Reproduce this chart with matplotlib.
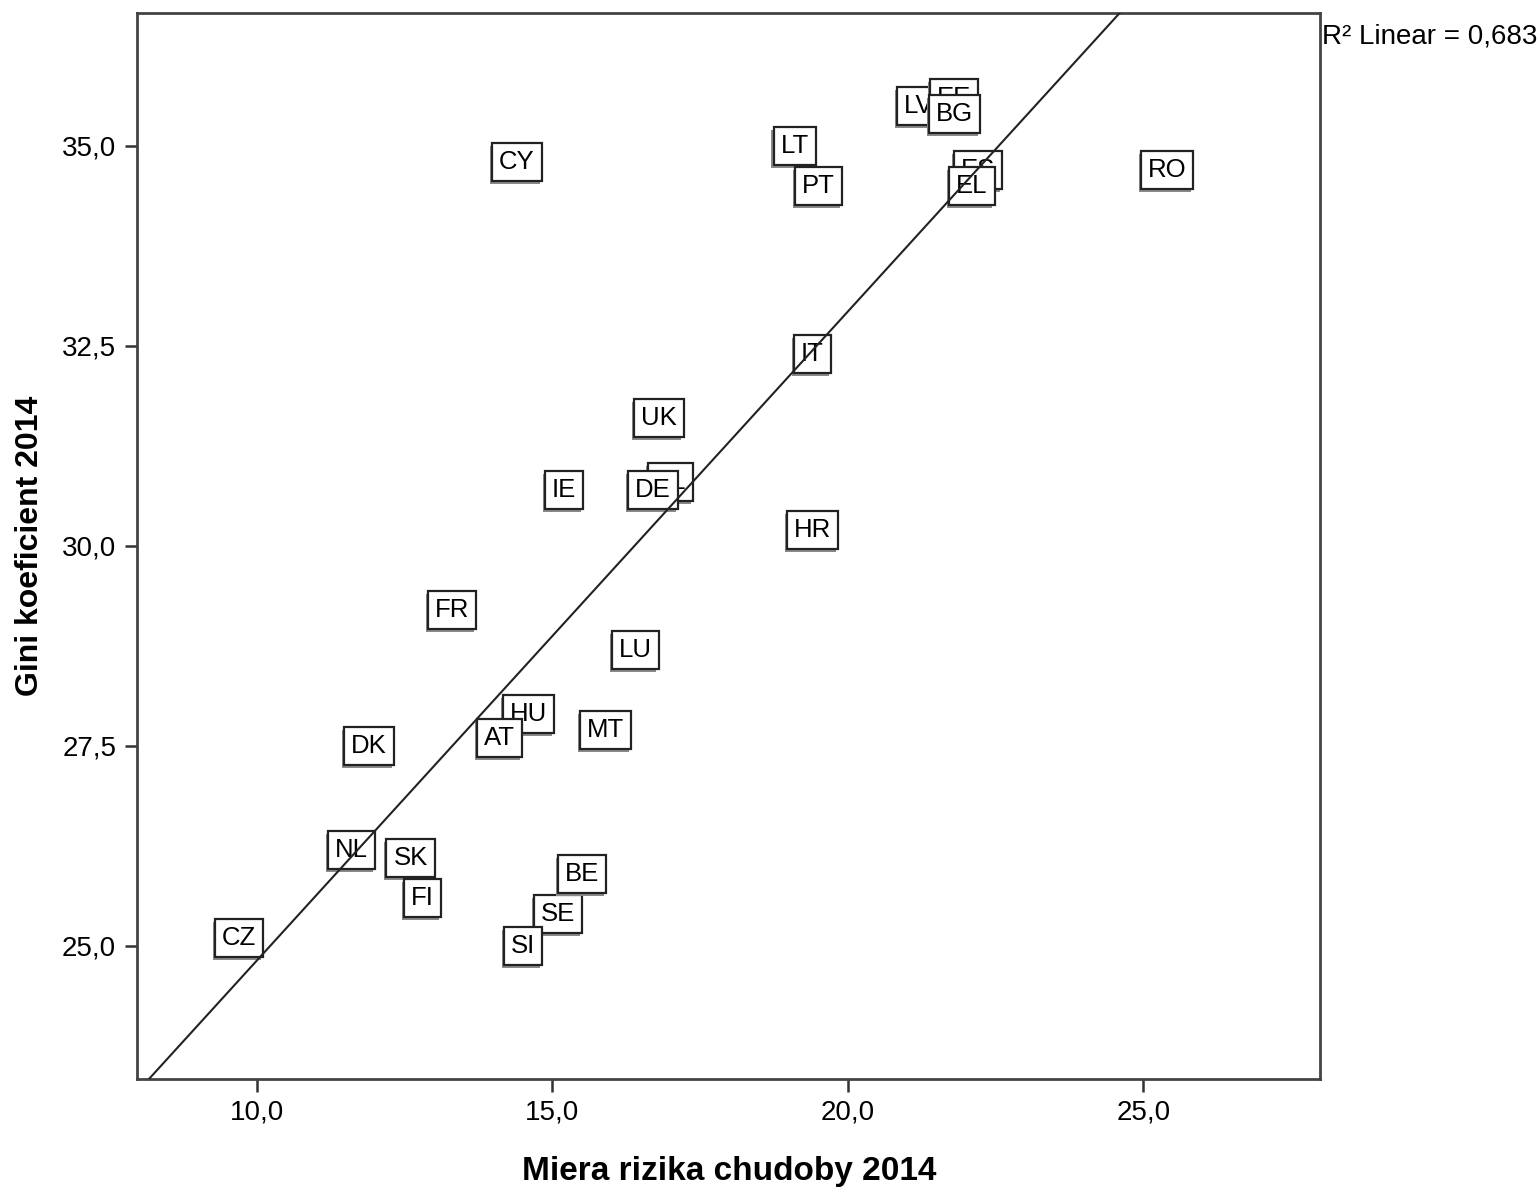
import numpy as np
import matplotlib
matplotlib.use("Agg")
import matplotlib.pyplot as plt
import matplotlib.patheffects as pe
from matplotlib.ticker import FuncFormatter, FixedLocator

plt.rcParams["font.family"] = ["Liberation Sans", "DejaVu Sans"]

# krajiny EU, poradie urcuje co sa kresli navrch
krajiny = ["CZ", "NL", "SK", "FI", "DK", "SE", "SI", "BE", "HU", "AT", "MT",
           "FR", "LU", "IE", "PL", "DE", "UK", "HR", "IT", "CY", "LT", "PT",
           "LV", "EE", "BG", "ES", "EL", "RO"]
chudoba = [9.7, 11.6, 12.6, 12.8, 11.9, 15.1, 14.5, 15.5, 14.6, 14.1, 15.9,
           13.3, 16.4, 15.2, 17.0, 16.7, 16.8, 19.4, 19.4, 14.4, 19.1, 19.5,
           21.2, 21.8, 21.8, 22.2, 22.1, 25.4]
gini = [25.1, 26.2, 26.1, 25.6, 27.5, 25.4, 25.0, 25.9, 27.9, 27.6, 27.7,
        29.2, 28.7, 30.7, 30.8, 30.7, 31.6, 30.2, 32.4, 34.8, 35.0, 34.5,
        35.5, 35.6, 35.4, 34.7, 34.5, 34.7]
r2_text = "R\u00b2 Linear = 0,683"

fig = plt.figure(figsize=(15.39, 11.88), dpi=100)
ax = fig.add_axes([0.089, 0.092, 0.769, 0.897])

ax.set_xlim(7.97, 28.0)
ax.set_ylim(23.34, 36.66)

for k, x, y in zip(krajiny, chudoba, gini):
    t = ax.text(x, y, k, fontsize=18.5, ha="center", va="center", zorder=3,
                bbox=dict(boxstyle="square,pad=0.27", facecolor="white",
                          edgecolor="#222222", linewidth=1.6))
    t.get_bbox_patch().set_path_effects([
        pe.SimplePatchShadow(offset=(-1.5, -2.5), shadow_rgbFace="#8a8a8a", alpha=1.0),
        pe.Normal()])

# linearna regresia
koef = np.polyfit(chudoba, gini, 1)
xs = np.array([7.97, 28.0])
ax.plot(xs, np.polyval(koef, xs), color="#222222", linewidth=1.5, zorder=4)

ax.text(1.001, 0.978, r2_text, transform=ax.transAxes, fontsize=20,
        ha="left", va="center", clip_on=False)

ax.xaxis.set_major_locator(FixedLocator([10, 15, 20, 25]))
ax.yaxis.set_major_locator(FixedLocator([25, 27.5, 30, 32.5, 35]))
carka = FuncFormatter(lambda v, p: ("%.1f" % v).replace(".", ","))
ax.xaxis.set_major_formatter(carka)
ax.yaxis.set_major_formatter(carka)
ax.tick_params(direction="out", length=9, width=1.8, color="#333333",
               labelsize=20, pad=6)

for s in ax.spines.values():
    s.set_linewidth(2)
    s.set_color("#444444")

ax.set_xlabel("Miera rizika chudoby 2014", fontsize=24, fontweight="bold",
              labelpad=22)
ax.set_ylabel("Gini koeficient 2014", fontsize=23, fontweight="bold",
              labelpad=12)

plt.savefig("out.png", dpi=100)
plt.close()
